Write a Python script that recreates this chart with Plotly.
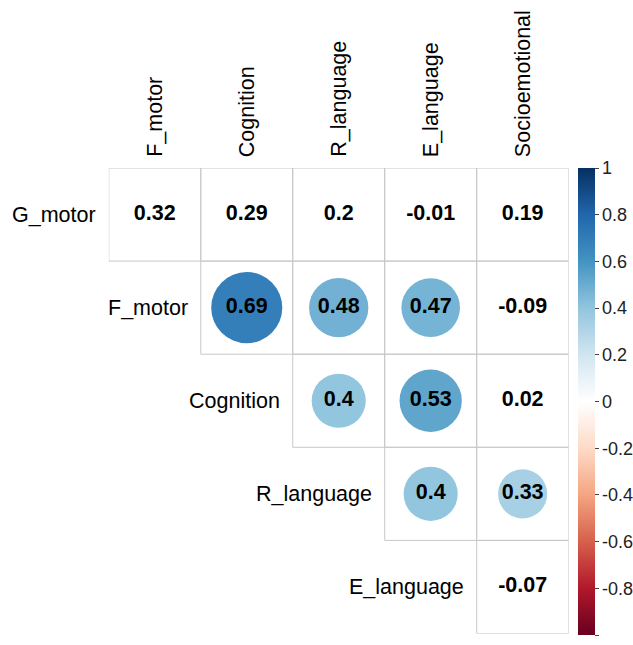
import plotly.graph_objects as go
import math

row_labels = ["G_motor", "F_motor", "Cognition", "R_language", "E_language"]
col_labels = ["F_motor", "Cognition", "R_language", "E_language", "Socioemotional"]

# upper-triangle correlations (None = not drawn)
r_gmotor = [0.32, 0.29, 0.2, -0.01, 0.19]
r_fmotor = [None, 0.69, 0.48, 0.47, -0.09]
r_cognition = [None, None, 0.4, 0.53, 0.02]
r_rlanguage = [None, None, None, 0.4, 0.33]
r_elanguage = [None, None, None, None, -0.07]
# significant cells drawn as circles
sig_gmotor = [False, False, False, False, False]
sig_fmotor = [False, True, True, True, False]
sig_cognition = [False, False, True, True, False]
sig_rlanguage = [False, False, False, True, True]
sig_elanguage = [False, False, False, False, False]

cb_tickvals = [1, 0.8, 0.6, 0.4, 0.2, 0, -0.2, -0.4, -0.6, -0.8, -1]
cb_ticktext = ["1", "0.8", "0.6", "0.4", "0.2", "0", "-0.2", "-0.4", "-0.6", "-0.8", "-1"]

R = [r_gmotor, r_fmotor, r_cognition, r_rlanguage, r_elanguage]
S = [sig_gmotor, sig_fmotor, sig_cognition, sig_rlanguage, sig_elanguage]

rdbu = ["#67001F", "#B2182B", "#D6604D", "#F4A582", "#FDDBC7", "#FFFFFF",
        "#D1E5F0", "#92C5DE", "#4393C3", "#2166AC", "#053061"]
colorscale = [[i / 10, c] for i, c in enumerate(rdbu)]

W, H = 633, 645
grid_left, grid_right = 110, 575
grid_top, grid_bottom = 168, 633.5
cb_left = 584
cell_px = (grid_right - grid_left) / 5
FONT = "Arial, Liberation Sans, sans-serif"

def fmt(v):
    return f"{round(v, 2):g}"

cx, cy, cr, csz = [], [], [], []
tx, ty, tt = [], [], []
shapes = []
for i in range(5):
    for j in range(5):
        v = R[i][j]
        if v is None:
            continue
        shapes.append(dict(type="rect", xref="x", yref="y",
                           x0=j - 0.5, x1=j + 0.5, y0=i - 0.5, y1=i + 0.5,
                           line=dict(color="#C8C8C8", width=1), layer="below"))
        if S[i][j]:
            cx.append(j); cy.append(i); cr.append(v)
            csz.append(0.92 * cell_px * math.sqrt(abs(v)))
        tx.append(j); ty.append(i); tt.append("<b>" + fmt(v) + "</b>")

fig = go.Figure()
fig.add_trace(go.Scatter(
    x=cx, y=cy, mode="markers", hoverinfo="skip",
    marker=dict(size=csz, sizemode="diameter", color=cr, colorscale=colorscale,
                cmin=-1, cmax=1, line=dict(width=0), opacity=1,
                showscale=True,
                colorbar=dict(thickness=17, thicknessmode="pixels",
                              len=(grid_bottom + 1.5 - grid_top) / H, lenmode="fraction",
                              x=cb_left / W, xanchor="left", xpad=0,
                              y=1 - grid_top / H, yanchor="top", ypad=0,
                              outlinewidth=0, ticks="outside", ticklen=4,
                              tickcolor="#444", tickvals=cb_tickvals, ticktext=cb_ticktext,
                              tickfont=dict(family=FONT, size=18, color="#222"))),
    showlegend=False))
fig.add_trace(go.Scatter(
    x=tx, y=ty, mode="text", text=tt, hoverinfo="skip",
    textfont=dict(family=FONT, size=21.5, color="black"), showlegend=False))

annotations = []
for i, lab in enumerate(row_labels):
    annotations.append(dict(x=i - 0.5, y=i, xref="x", yref="y", text=lab,
                            showarrow=False, xanchor="right", yanchor="middle",
                            xshift=-11, font=dict(family=FONT, size=21.5, color="black")))
for j, lab in enumerate(col_labels):
    annotations.append(dict(x=j, y=1 - grid_top / H, xref="x", yref="paper", text=lab,
                            showarrow=False, textangle=-90, xanchor="center",
                            yanchor="bottom", yshift=9,
                            font=dict(family=FONT, size=21.5, color="black")))

fig.update_layout(
    width=W, height=H, margin=dict(l=0, r=0, t=0, b=0),
    paper_bgcolor="white", plot_bgcolor="white",
    xaxis=dict(domain=[grid_left / W, grid_right / W], range=[-0.5, 4.5],
               visible=False, fixedrange=True),
    yaxis=dict(domain=[1 - grid_bottom / H, 1 - grid_top / H], range=[4.5, -0.5],
               visible=False, fixedrange=True),
    shapes=shapes, annotations=annotations)

fig.write_html("out.html", config={"displayModeBar": False},
               post_script="document.body.style.margin='0';document.body.style.overflow='hidden';")
